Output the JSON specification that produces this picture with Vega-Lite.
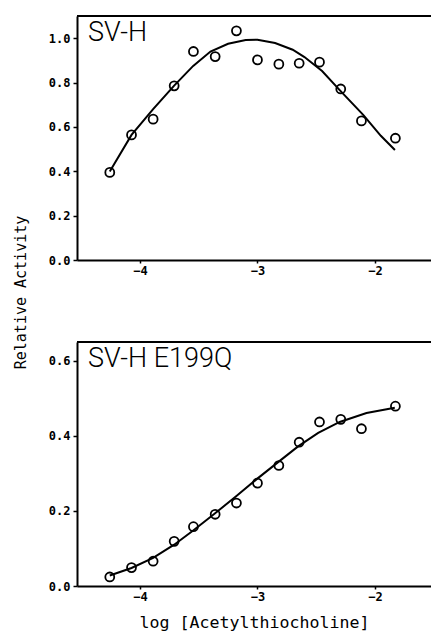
{
  "$schema": "https://vega.github.io/schema/vega-lite/v6.json",
  "background": "white",
  "padding": {"left": 13, "top": 15, "right": 0, "bottom": 0},
  "bounds": "flush",
  "spacing": 82,
  "datasets": {
    "svh_obs": [
      {"logS": -4.257, "activity": 0.395},
      {"logS": -4.072, "activity": 0.564},
      {"logS": -3.888, "activity": 0.635},
      {"logS": -3.709, "activity": 0.785},
      {"logS": -3.545, "activity": 0.940},
      {"logS": -3.360, "activity": 0.917},
      {"logS": -3.179, "activity": 1.033},
      {"logS": -3.000, "activity": 0.902},
      {"logS": -2.818, "activity": 0.883},
      {"logS": -2.645, "activity": 0.887},
      {"logS": -2.472, "activity": 0.892},
      {"logS": -2.291, "activity": 0.771},
      {"logS": -2.115, "activity": 0.627},
      {"logS": -1.826, "activity": 0.549}
    ],
    "svh_fit": [
      {"logS": -4.257, "activity": 0.399},
      {"logS": -4.072, "activity": 0.564},
      {"logS": -3.888, "activity": 0.680},
      {"logS": -3.709, "activity": 0.786},
      {"logS": -3.547, "activity": 0.875},
      {"logS": -3.400, "activity": 0.940},
      {"logS": -3.250, "activity": 0.975},
      {"logS": -3.100, "activity": 0.992},
      {"logS": -3.000, "activity": 0.993},
      {"logS": -2.850, "activity": 0.978},
      {"logS": -2.700, "activity": 0.948},
      {"logS": -2.600, "activity": 0.915},
      {"logS": -2.450, "activity": 0.852},
      {"logS": -2.300, "activity": 0.766},
      {"logS": -2.100, "activity": 0.654},
      {"logS": -1.950, "activity": 0.560},
      {"logS": -1.830, "activity": 0.496}
    ],
    "e199q_obs": [
      {"logS": -4.257, "activity": 0.024},
      {"logS": -4.072, "activity": 0.049},
      {"logS": -3.888, "activity": 0.066},
      {"logS": -3.709, "activity": 0.119},
      {"logS": -3.545, "activity": 0.158},
      {"logS": -3.360, "activity": 0.191},
      {"logS": -3.179, "activity": 0.221},
      {"logS": -3.000, "activity": 0.274},
      {"logS": -2.818, "activity": 0.321},
      {"logS": -2.645, "activity": 0.383},
      {"logS": -2.472, "activity": 0.437},
      {"logS": -2.291, "activity": 0.444},
      {"logS": -2.115, "activity": 0.419},
      {"logS": -1.826, "activity": 0.479}
    ],
    "e199q_fit": [
      {"logS": -4.257, "activity": 0.028},
      {"logS": -4.072, "activity": 0.048},
      {"logS": -3.888, "activity": 0.075},
      {"logS": -3.709, "activity": 0.110},
      {"logS": -3.547, "activity": 0.148},
      {"logS": -3.363, "activity": 0.193},
      {"logS": -3.179, "activity": 0.240},
      {"logS": -3.009, "activity": 0.284},
      {"logS": -2.824, "activity": 0.330},
      {"logS": -2.654, "activity": 0.372},
      {"logS": -2.483, "activity": 0.408},
      {"logS": -2.300, "activity": 0.437},
      {"logS": -2.072, "activity": 0.461},
      {"logS": -1.831, "activity": 0.475}
    ]
  },
  "vconcat": [
    {
      "width": 354,
      "height": 244,
      "layer": [
        {
          "data": {"name": "svh_fit"},
          "mark": {"type": "line", "color": "black", "strokeWidth": 2},
          "encoding": {
            "x": {"field": "logS", "type": "quantitative", "scale": {"domain": [-4.536, -1.523], "nice": false, "zero": false},
                  "axis": {"values": [-4, -3, -2], "format": "d", "title": null}},
            "y": {"field": "activity", "type": "quantitative", "scale": {"domain": [0, 1.1], "nice": false},
                  "axis": {"values": [0, 0.2, 0.4, 0.6, 0.8, 1.0], "format": ".1f", "title": "Relative Activity",
                           "titleX": -49, "titleY": 276, "titleAngle": -90, "titleAlign": "center", "titleBaseline": "bottom"}}
          }
        },
        {
          "data": {"name": "svh_obs"},
          "mark": {"type": "point", "shape": "circle", "filled": false, "color": "black", "size": 80, "strokeWidth": 1.8, "opacity": 1},
          "encoding": {
            "x": {"field": "logS", "type": "quantitative"},
            "y": {"field": "activity", "type": "quantitative"}
          }
        },
        {
          "data": {"values": [{"edge": "top"}]},
          "mark": {"type": "rule", "color": "black", "strokeWidth": 2},
          "encoding": {
            "y": {"datum": 1.1, "type": "quantitative"}
          }
        },
        {
          "data": {"values": [{"label": "SV-H"}]},
          "mark": {"type": "text", "align": "left", "baseline": "alphabetic", "font": "Roboto", "fontWeight": 300, "fontSize": 27, "color": "black"},
          "encoding": {
            "text": {"field": "label"},
            "x": {"datum": -4.442, "type": "quantitative"},
            "y": {"datum": 0.987, "type": "quantitative"}
          }
        }
      ]
    },
    {
      "width": 354,
      "height": 244,
      "layer": [
        {
          "data": {"name": "e199q_fit"},
          "mark": {"type": "line", "color": "black", "strokeWidth": 2},
          "encoding": {
            "x": {"field": "logS", "type": "quantitative", "scale": {"domain": [-4.536, -1.523], "nice": false, "zero": false},
                  "axis": {"values": [-4, -3, -2], "format": "d", "title": "log [Acetylthiocholine]"}},
            "y": {"field": "activity", "type": "quantitative", "scale": {"domain": [0, 0.65], "nice": false},
                  "axis": {"values": [0, 0.2, 0.4, 0.6], "format": ".1f", "title": null}}
          }
        },
        {
          "data": {"name": "e199q_obs"},
          "mark": {"type": "point", "shape": "circle", "filled": false, "color": "black", "size": 80, "strokeWidth": 1.8, "opacity": 1},
          "encoding": {
            "x": {"field": "logS", "type": "quantitative"},
            "y": {"field": "activity", "type": "quantitative"}
          }
        },
        {
          "data": {"values": [{"edge": "top"}]},
          "mark": {"type": "rule", "color": "black", "strokeWidth": 2},
          "encoding": {
            "y": {"datum": 0.65, "type": "quantitative"}
          }
        },
        {
          "data": {"values": [{"label": "SV-H E199Q"}]},
          "mark": {"type": "text", "align": "left", "baseline": "alphabetic", "font": "Roboto", "fontWeight": 300, "fontSize": 27, "color": "black"},
          "encoding": {
            "text": {"field": "label"},
            "x": {"datum": -4.442, "type": "quantitative"},
            "y": {"datum": 0.583, "type": "quantitative"}
          }
        }
      ]
    }
  ],
  "config": {
    "view": {"stroke": null},
    "axis": {
      "grid": false,
      "domainColor": "black",
      "domainWidth": 2,
      "tickColor": "black",
      "tickWidth": 1.5,
      "labelFont": "DejaVu Sans Mono",
      "labelFontWeight": "bold",
      "labelFontSize": 12,
      "labelColor": "black",
      "titleFont": "DejaVu Sans Mono",
      "titleFontWeight": "normal",
      "titleColor": "black"
    },
    "axisY": {"tickSize": 4, "labelPadding": 3, "titleFontSize": 15},
    "axisX": {"tickSize": 3, "labelPadding": 2, "titleFontSize": 16.6, "titlePadding": 12}
  }
}
